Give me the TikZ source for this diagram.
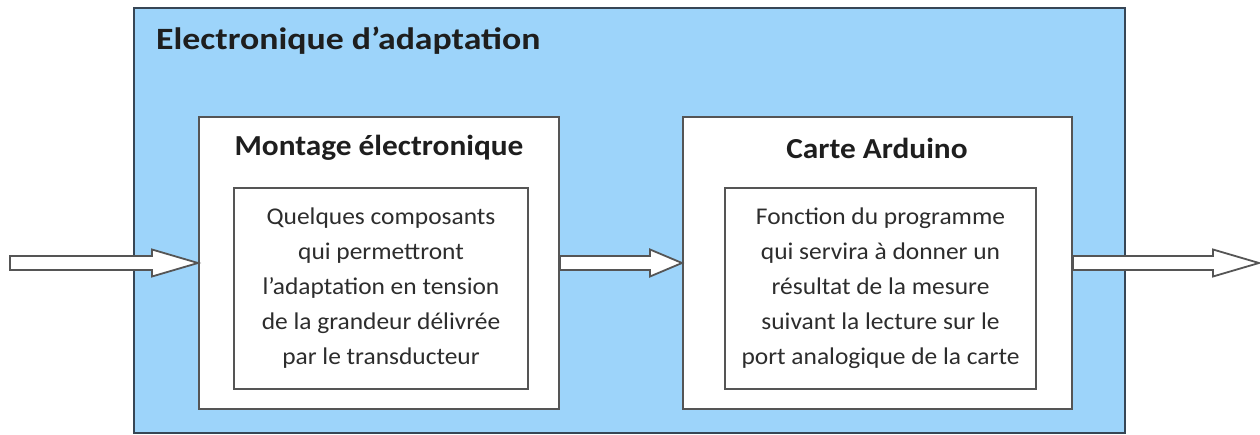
\documentclass[tikz,border=0pt]{standalone}
\usepackage{fontspec}
\setmainfont{Carlito}
\newfontfamily\titlefont[FakeStretch=1.154]{Carlito}
\newfontfamily\headfont[FakeStretch=1.08]{Carlito}
\newfontfamily\bodyfont[FakeStretch=1.06]{Carlito}
\usetikzlibrary{calc}
\definecolor{bgblue}{RGB}{157,212,250}
\definecolor{edge}{RGB}{55,70,85}
\definecolor{boxedge}{RGB}{85,85,85}
\definecolor{txt}{RGB}{30,30,30}
\definecolor{bodytxt}{RGB}{45,45,45}
\newcommand\blockarr[3]{%
  \draw[arrowline] let \p1=(#1), \p2=(#2) in
    (\x1,\y1-7pt) -- (\x2-#3pt,\y1-7pt) -- (\x2-#3pt,\y1-13.5pt) -- (\x2,\y1)
    -- (\x2-#3pt,\y1+13.5pt) -- (\x2-#3pt,\y1+7pt) -- (\x1,\y1+7pt) -- cycle;}
\tikzset{
  outerbox/.style={draw=edge, line width=2pt, fill=bgblue, minimum width=991pt, minimum height=425pt, inner sep=0pt},
  blockbox/.style={draw=boxedge, line width=2pt, fill=white, inner sep=0pt},
  textbox/.style={draw=boxedge, line width=1.8pt, fill=white, inner sep=0pt, align=center, text=bodytxt,
     font=\bodyfont\fontsize{24}{35}\selectfont},
  titletext/.style={text=txt, font=\titlefont\fontsize{31}{36}\selectfont\bfseries, inner sep=0pt},
  blocktitle/.style={text=txt, font=\headfont\fontsize{29}{34}\selectfont\bfseries, inner sep=0pt},
  arrowline/.style={draw=boxedge, line width=1.8pt, fill=white, line join=miter},
}
\begin{document}
\begin{tikzpicture}[x=1pt,y=-1pt]
\useasboundingbox (0,0) rectangle (1260,435);
\node[outerbox] (outer) at (629.5,220.5) {};
\node[titletext, anchor=west] (title) at (156,41) {Electronique d’adaptation};
\node[blockbox, minimum width=360pt, minimum height=292pt] (b1) at (379,263) {};
\node[blocktitle] (b1t) at (379,148) {Montage électronique};
\node[textbox, minimum width=294pt, minimum height=201pt] (t1) at (381,288.5)
  {Quelques composants\\qui permettront\\l’adaptation en tension\\de la grandeur délivrée\\par le transducteur};
\node[blockbox, minimum width=389pt, minimum height=292pt] (b2) at (877.5,263) {};
\node[blocktitle] (b2t) at (877,148) {Carte Arduino};
\node[textbox, minimum width=311pt, minimum height=201pt] (t2) at (880.5,288.5)
  {Fonction du programme\\qui servira à donner un\\résultat de la mesure\\suivant la lecture sur le\\port analogique de la carte};
\coordinate (in) at (10,263);
\coordinate (out) at (1259,263);
\blockarr{in}{b1.west}{46}
\blockarr{b1.east}{b2.west}{32}
\blockarr{b2.east}{out}{46}
\end{tikzpicture}
\end{document}
